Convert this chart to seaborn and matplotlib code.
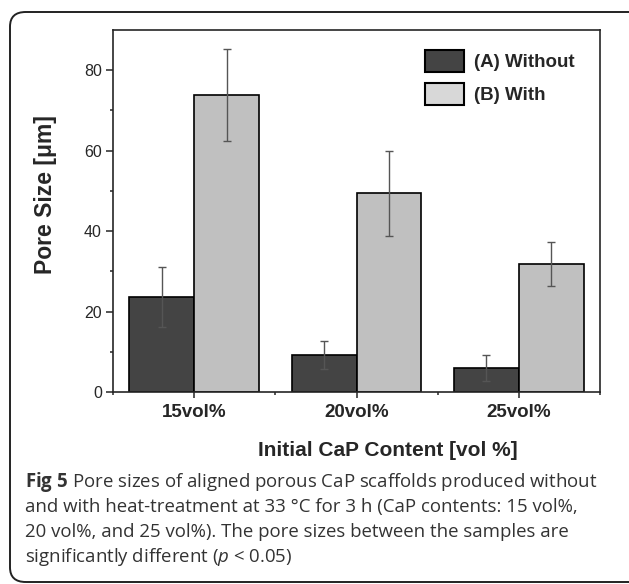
import matplotlib
matplotlib.use("Agg")
import matplotlib.pyplot as plt
from matplotlib.patches import Patch, FancyBboxPatch
import seaborn as sns
import pandas as pd
import numpy as np

# ---- data ----
categories = ["15vol%", "20vol%", "25vol%"]
groups = ["(A) Without", "(B) With"]
without_mean = [23.6, 9.2, 5.9]
without_err = [7.4, 3.6, 3.2]
with_mean = [73.8, 49.4, 31.8]
with_err = [11.5, 10.6, 5.5]
yticks = [0, 20, 40, 60, 80]

bar_colors = ["#444444", "#c0c0c0"]
legend_colors = ["#444444", "#d8d8d8"]

df = pd.DataFrame({
    "content": categories * 2,
    "group": [groups[0]] * 3 + [groups[1]] * 3,
    "size": without_mean + with_mean,
    "err": without_err + with_err,
})

sns.set_style("ticks")
plt.rcParams["font.family"] = ["Liberation Sans", "DejaVu Sans"]
plt.rcParams["mathtext.fontset"] = "custom"
plt.rcParams["mathtext.rm"] = "Open Sans"
plt.rcParams["mathtext.it"] = "Open Sans:italic"
plt.rcParams["mathtext.bf"] = "Open Sans:bold"

fig = plt.figure(figsize=(6.29, 5.84), dpi=100)
ax = fig.add_axes([113 / 629, 1 - 392 / 584, 487 / 629, 362 / 584])

sns.barplot(data=df, x="content", y="size", hue="group", order=categories,
            hue_order=groups, palette=bar_colors, errorbar=None,
            edgecolor="black", linewidth=1.2, ax=ax, legend=False)

# error bars from patch centres
for p, (_, row) in zip(ax.patches, df.iterrows()):
    cx = p.get_x() + p.get_width() / 2
    ax.errorbar(cx, row["size"], yerr=row["err"], fmt="none",
                ecolor="#555555", elinewidth=1.0, capsize=2.6, capthick=1.0,
                zorder=5)

ax.set_xlim(-0.5, 2.5)
ax.set_ylim(0, 90)
ax.set_yticks(yticks)
ax.set_yticks([10, 30, 50, 70], minor=True)
ax.set_xticks([-0.5, 0.5, 1.5, 2.5], minor=True)
ax.tick_params(axis="y", which="major", direction="out", length=5, width=1.1,
               labelsize=11.5, pad=3)
ax.tick_params(axis="y", which="minor", direction="out", length=2.5, width=1.1)
ax.tick_params(axis="x", which="major", direction="out", length=4.5, width=1.1,
               labelsize=13.5, pad=4)
ax.tick_params(axis="x", which="minor", direction="out", length=2, width=1.1)
for lab in ax.get_xticklabels():
    lab.set_fontweight("bold")
for s in ax.spines.values():
    s.set_linewidth(1.2)
    s.set_visible(True)

ax.set_ylabel("Pore Size [μm]", fontsize=16.5, fontweight="bold")
ax.yaxis.set_label_coords(-0.115, 0.545)
ax.set_xlabel("Initial CaP Content [vol %]", fontsize=15, fontweight="bold")
ax.xaxis.set_label_coords(0.565, -0.135)

handles = [Patch(facecolor=c, edgecolor="black", linewidth=1.5) for c in legend_colors]
ax.legend(handles, groups, loc="upper right", bbox_to_anchor=(0.97, 0.976),
          frameon=False, prop={"weight": "bold", "size": 13.5},
          handlelength=2.1, handleheight=1.43, labelspacing=0.58,
          handletextpad=0.5, borderaxespad=0.2)

# caption
cap_lines = [
    r"$\mathbf{Fig\ 5}$ Pore sizes of aligned porous CaP scaffolds produced without",
    "and with heat-treatment at 33 °C for 3 h (CaP contents: 15 vol%,",
    "20 vol%, and 25 vol%). The pore sizes between the samples are",
    r"significantly different ($\mathit{p}$ < 0.05)",
]
for i, line in enumerate(cap_lines):
    fig.text(25 / 629, 1 - (487 + 25 * i) / 584, line, family="Open Sans",
             fontsize=13.4, color="#333333", va="baseline", ha="left")

# rounded frame
box = FancyBboxPatch((10 / 629, 2 / 584), 640 / 629, 570 / 584,
                     boxstyle="round,pad=0,rounding_size=0.025",
                     transform=fig.transFigure, fill=False,
                     edgecolor="#222222", linewidth=1.4, clip_on=False)
fig.patches.append(box)

fig.savefig("out.png", dpi=100)
